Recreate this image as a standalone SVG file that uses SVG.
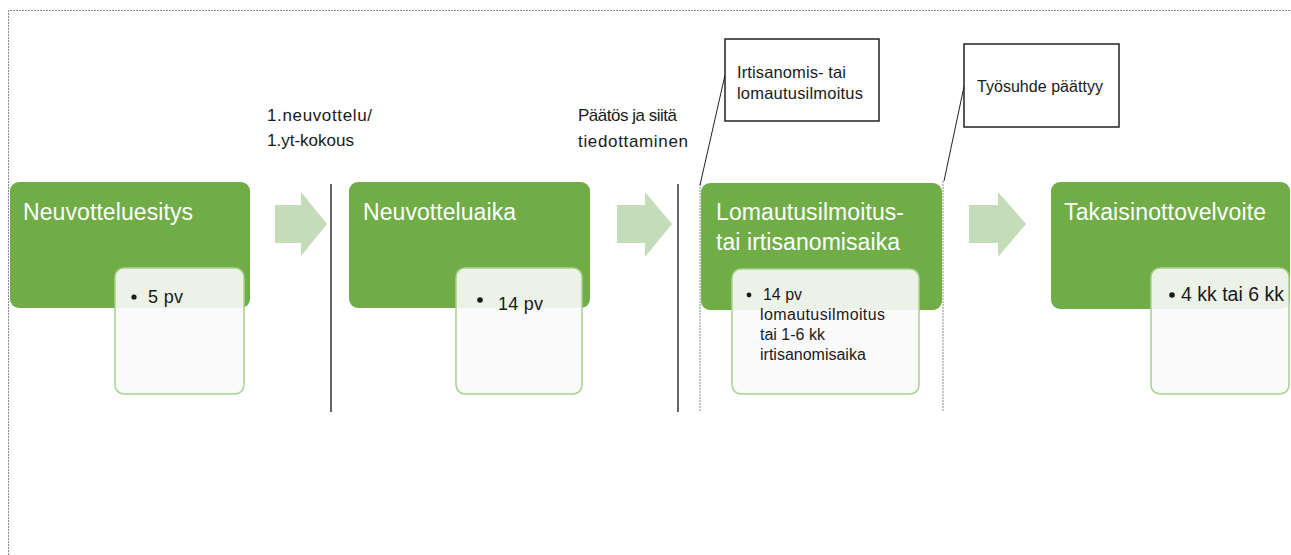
<svg xmlns="http://www.w3.org/2000/svg" width="1291" height="555" viewBox="0 0 1291 555">
<style>
.frame{fill:none;stroke:#8a8a8a;stroke-width:1;stroke-dasharray:2 1}
.main{fill:#70ad47}
.sub{fill:#fafafa;fill-opacity:0.9;stroke:#a9d18e;stroke-width:1.5}
.title{font-family:"Liberation Sans",Arial,sans-serif;font-size:23px;fill:#ffffff}
.body{font-family:"Liberation Sans",Arial,sans-serif;fill:#1a1a1a}
.lbl{font-family:"Liberation Sans",Arial,sans-serif;font-size:17px;fill:#1a1a1a}
.arrow{fill:#c5dcb8}
.sep{stroke:#333333;stroke-width:1.5}
.dsep{stroke:#8a8a8a;stroke-width:1;stroke-dasharray:2 1}
.callout{fill:#ffffff;stroke:#222222;stroke-width:1.5}
.ptr{stroke:#222222;stroke-width:1;fill:none}
</style>
<path class="frame" d="M8.5 555 V10.5 H1291"/>
<g id="connectors">
<polygon class="arrow" points="275,205 301,205 301,192 327,224 301,256 301,243 275,243"/>
<polygon class="arrow" points="617,205 645,205 645,192 672,224 645,257 645,243 617,243"/>
<polygon class="arrow" points="969,205 998,205 998,192 1026,224 998,257 998,243 969,243"/>
<line class="sep" x1="331" y1="184" x2="331" y2="412"/>
<line class="sep" x1="678" y1="184" x2="678" y2="412"/>
<line class="dsep" x1="700" y1="184" x2="700" y2="412"/>
<line class="dsep" x1="943" y1="181" x2="943" y2="412"/>
<line class="ptr" x1="725" y1="75" x2="700" y2="185"/>
<line class="ptr" x1="966" y1="77" x2="944" y2="181"/>
</g>
<g id="label-neuvottelu">
<text class="lbl" x="267" y="121" textLength="105">1.neuvottelu/</text>
<text class="lbl" x="267" y="146" textLength="87">1.yt-kokous</text>
</g>
<g id="label-paatos">
<text class="lbl" x="578" y="121" textLength="99">Päätös ja siitä</text>
<text class="lbl" x="578" y="147" textLength="110">tiedottaminen</text>
</g>
<g id="callout-irtisanomis">
<rect class="callout" x="725" y="39" width="154" height="82"/>
<text class="body" x="737" y="78" font-size="16.5" textLength="109">Irtisanomis- tai</text>
<text class="body" x="737" y="99" font-size="16.5" textLength="126">lomautusilmoitus</text>
</g>
<g id="callout-tyosuhde">
<rect class="callout" x="964" y="44" width="155" height="83"/>
<text class="body" x="977" y="92" font-size="16" textLength="126">Työsuhde päättyy</text>
</g>
<g id="node-neuvotteluesitys">
<rect class="main" x="10" y="182" width="240" height="126" rx="9"/>
<text class="title" x="23" y="220" textLength="170">Neuvotteluesitys</text>
<rect class="sub" x="115" y="268" width="129" height="126" rx="9"/>
<circle cx="134" cy="297" r="2.6" fill="#1a1a1a"/>
<text class="body" x="148" y="303" font-size="18" textLength="35">5 pv</text>
</g>
<g id="node-neuvotteluaika">
<rect class="main" x="349" y="182" width="241" height="126" rx="9"/>
<text class="title" x="363" y="220" textLength="153">Neuvotteluaika</text>
<rect class="sub" x="456" y="268" width="126" height="126" rx="9"/>
<circle cx="480" cy="300" r="2.8" fill="#1a1a1a"/>
<text class="body" x="498" y="310" font-size="18" textLength="45">14 pv</text>
</g>
<g id="node-lomautus">
<rect class="main" x="701" y="183" width="241" height="127" rx="9"/>
<text class="title" x="716" y="220" textLength="188">Lomautusilmoitus-</text>
<text class="title" x="716" y="250" textLength="184">tai irtisanomisaika</text>
<rect class="sub" x="732" y="269" width="187" height="125" rx="9"/>
<circle cx="749" cy="295" r="2.4" fill="#1a1a1a"/>
<text class="body" x="763" y="300" font-size="16" textLength="39">14 pv</text>
<text class="body" x="760" y="320" font-size="16" textLength="125">lomautusilmoitus</text>
<text class="body" x="760" y="340" font-size="16">tai 1-6 kk</text>
<text class="body" x="760" y="360" font-size="16">irtisanomisaika</text>
</g>
<g id="node-takaisinotto">
<rect class="main" x="1051" y="182" width="239" height="127" rx="9"/>
<text class="title" x="1064" y="220" textLength="202">Takaisinottovelvoite</text>
<rect class="sub" x="1151" y="268" width="138" height="126" rx="9"/>
<circle cx="1172" cy="295" r="2.8" fill="#1a1a1a"/>
<text class="body" x="1181" y="301" font-size="19.5" textLength="103">4 kk tai 6 kk</text>
</g>
</svg>
